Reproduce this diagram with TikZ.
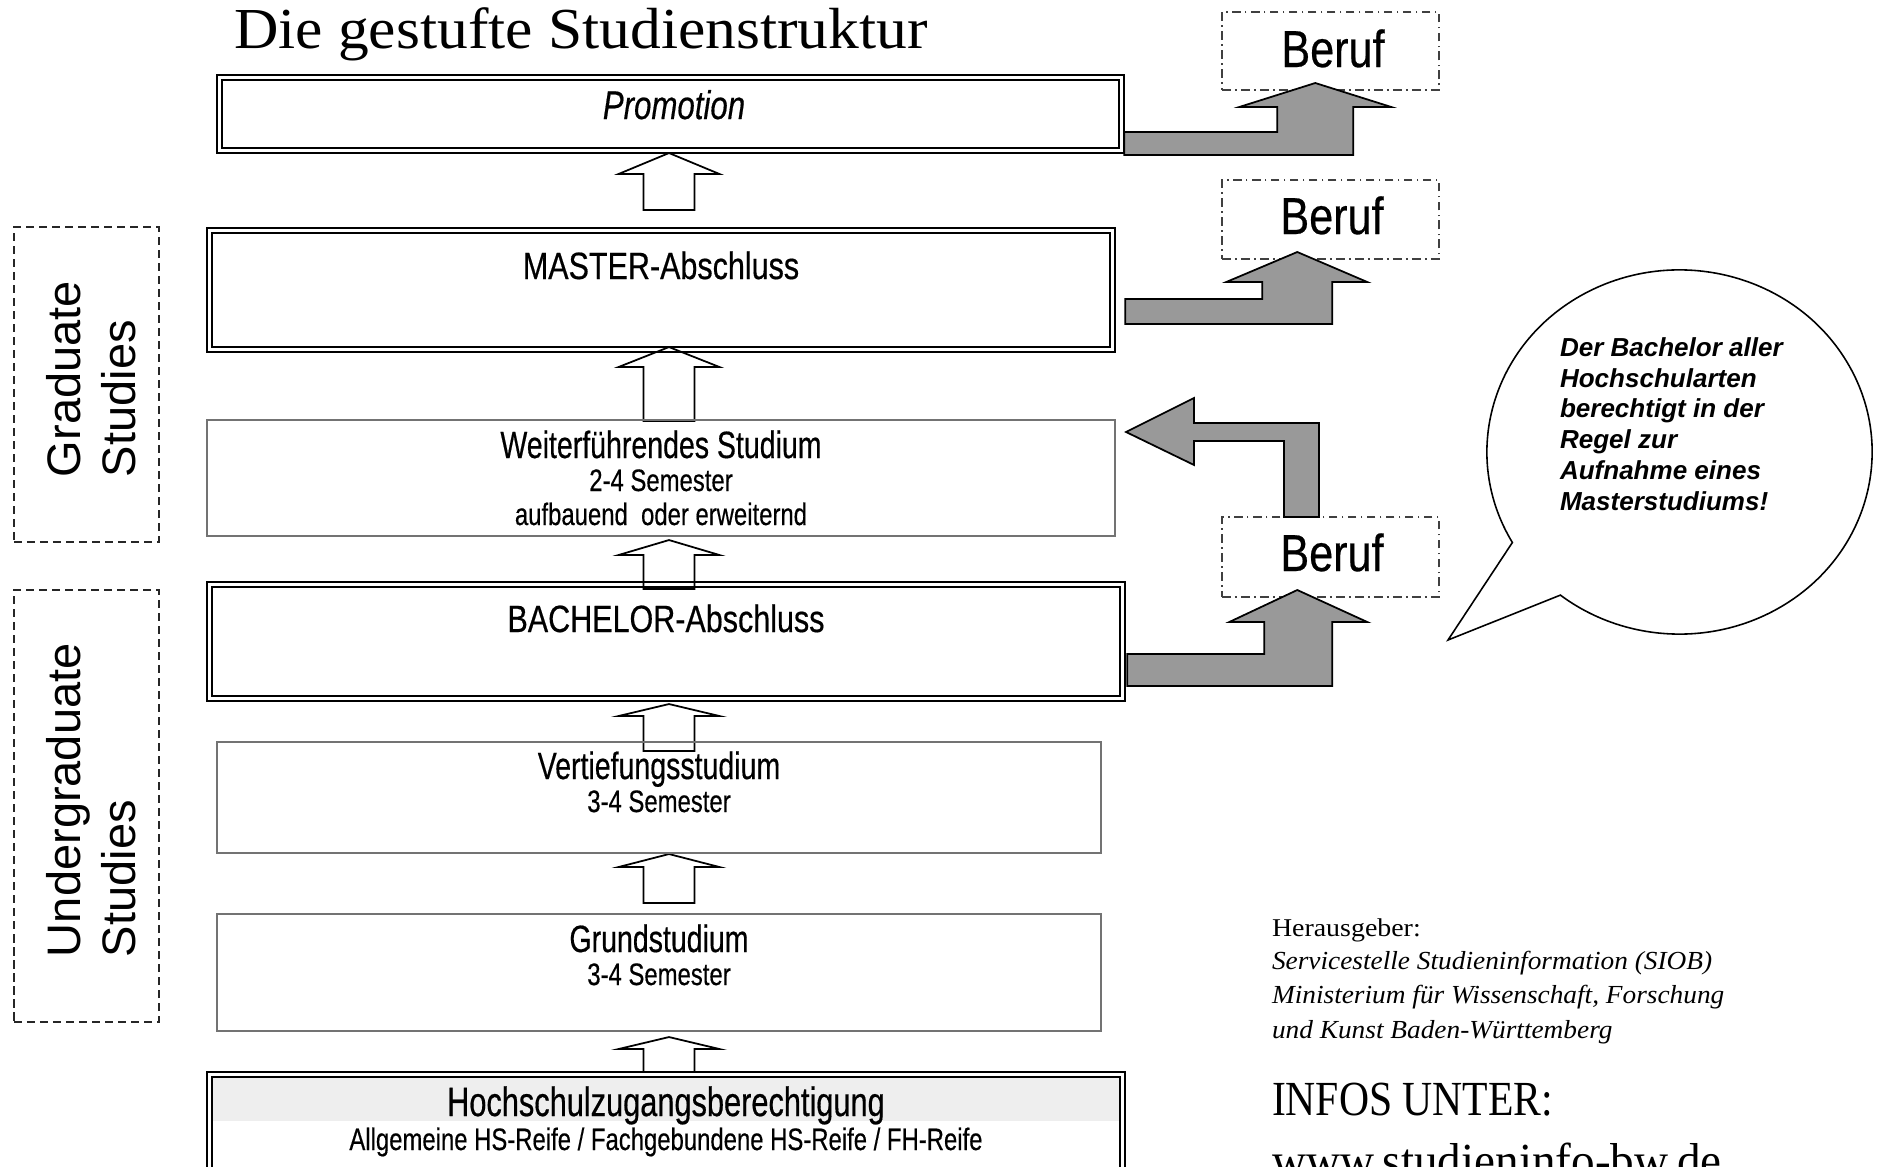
\documentclass[tikz,border=0pt]{standalone}
\usepackage{fontspec}
\setmainfont{Liberation Serif}
\setsansfont{Liberation Sans}
\newfontfamily\nsans[FakeBold=0.5]{Liberation Sans}
\usetikzlibrary{calc,backgrounds}
\definecolor{arrowgray}{RGB}{153,153,153}
\definecolor{bandgray}{RGB}{238,238,238}
\newcommand\hollowup[3]{\draw[hollow] (#1) -- ++(50.5,#2) -- ++(-25,0) -- ++(0,#3) -- ++(-51,0) -- ++(0,-#3) -- ++(-25,0) -- cycle;}
\begin{document}
\begin{tikzpicture}[x=0.01cm,y=-0.01cm,
  every node/.style={inner sep=0pt,outer sep=0pt},
  dblbox/.style={draw,line width=0.5pt},
  sglbox/.style={draw=black!55,line width=0.5pt},
  frame/.style={line width=0.5pt},
  hollow/.style={draw,line width=0.5pt,fill=white},
  grayarrow/.style={draw,line width=0.5pt,fill=arrowgray,line join=miter},
  berufbox/.style={draw=black!75,line width=0.4pt,dash pattern=on 2.5pt off 1.2pt on 0.5pt off 1.2pt},
  dashbox/.style={draw=black!85,line width=0.5pt,dash pattern=on 2.3pt off 1.4pt},
  headtxt/.style={anchor=base,font=\nsans\fontsize{10.81}{13}\selectfont,xscale=0.75},
  capstxt/.style={headtxt,xscale=1.07},
  hzbtxt/.style={anchor=base,font=\nsans\fontsize{11.66}{14}\selectfont,xscale=0.75},
  promtxt/.style={anchor=base,font=\nsans\itshape\fontsize{11.38}{14}\selectfont,xscale=0.78},
  subtxt/.style={anchor=base,font=\nsans\fontsize{8.82}{10.5}\selectfont,xscale=0.77},
  beruftxt/.style={anchor=base,font=\nsans\fontsize{14.79}{17}\selectfont,xscale=0.83},
  sidetxt/.style={rotate=90,anchor=base west,font=\sffamily\fontsize{13.37}{15.6}\selectfont},
  bubtxt/.style={anchor=base west,align=left,font=\sffamily\bfseries\itshape\fontsize{7.4}{8.73}\selectfont},
  bubble/.style={draw,line width=0.45pt,fill=white},
  titletxt/.style={anchor=base west,font=\fontsize{16.5}{19}\selectfont,xscale=1.06},
  hgtxt/.style={anchor=base west,font=\fontsize{7.28}{9}\selectfont,xscale=1.09},
  footit/.style={anchor=base west,font=\itshape\fontsize{7.4}{9}\selectfont,xscale=1.05},
  infotxt/.style={anchor=base west,font=\fontsize{13.94}{16}\selectfont,xscale=0.85},
  wwwtxt/.style={anchor=base west,font=\fontsize{13.94}{16}\selectfont,xscale=0.962}
]
\useasboundingbox (0,0) rectangle (1879,1166);
\clip (0,0) rectangle (1879,1166);

% title
\node[titletxt] (title) at (234,48) {Die gestufte Studienstruktur};

% main boxes
\node[dblbox,minimum width=9.07cm,minimum height=0.78cm] (prom) at (670.5,114) {};
\node[dblbox,minimum width=9.08cm,minimum height=1.24cm] (master) at (661,290) {};
\node[sglbox,minimum width=9.08cm,minimum height=1.16cm] (weiter) at (661,478) {};
\node[dblbox,minimum width=9.18cm,minimum height=1.19cm] (bach) at (666,641.5) {};
\node[sglbox,minimum width=8.84cm,minimum height=1.11cm] (vert) at (659,797.5) {};
\node[sglbox,minimum width=8.84cm,minimum height=1.17cm] (grund) at (659,972.5) {};
\node[dblbox,minimum width=9.18cm,minimum height=1.13cm] (hzb) at (666,1128.5) {};
\fill[bandgray] ($(hzb.north west)+(5,5)$) rectangle ($(hzb.north east)+(-5,49)$);
\foreach \n in {prom,master,bach,hzb}
  \draw[frame] ($(\n.north west)+(5,5)$) rectangle ($(\n.south east)+(-5,-5)$);

% hollow up arrows (behind boxes)
\coordinate (ax) at (669,0);
\coordinate (u1) at (ax |- prom.south);
\coordinate (u2) at ($(ax |- master.south)+(0,-5)$);
\coordinate (u3) at ($(ax |- weiter.south)+(0,4)$);
\coordinate (u4) at ($(ax |- bach.south)+(0,3)$);
\coordinate (u5) at ($(ax |- vert.south)+(0,1)$);
\coordinate (u6) at ($(ax |- grund.south)+(0,6)$);
\begin{pgfonlayer}{background}
\hollowup{u1}{21}{36}
\hollowup{u2}{20}{54}
\hollowup{u3}{15}{34}
\hollowup{u4}{12}{35}
\hollowup{u5}{13}{36}
\hollowup{u6}{12}{23}
\end{pgfonlayer}

% box texts
\node[promtxt] (tprom) at (674,119) {Promotion};
\node[capstxt] (tmaster) at (661,279) {MASTER-Abschluss};
\node[headtxt] (tweiter) at (661,458) {Weiterführendes Studium};
\node[subtxt] (tweiter2) at (661,491) {2-4 Semester};
\node[subtxt] (tweiter3) at (661,525) {aufbauend\ \ oder erweiternd};
\node[capstxt] (tbach) at (666,632) {BACHELOR-Abschluss};
\node[headtxt] (tvert) at (659,779) {Vertiefungsstudium};
\node[subtxt] (tvert2) at (659,812) {3-4 Semester};
\node[headtxt] (tgrund) at (659,952) {Grundstudium};
\node[subtxt] (tgrund2) at (659,985) {3-4 Semester};
\node[hzbtxt] (thzb) at (666,1116) {Hochschulzugangsberechtigung};
\node[subtxt] (thzb2) at (666,1150) {Allgemeine HS-Reife / Fachgebundene HS-Reife / FH-Reife};

% Beruf boxes
\node[berufbox,minimum width=2.17cm,minimum height=0.78cm] (beruf1) at (1330.5,51) {};
\node[berufbox,minimum width=2.17cm,minimum height=0.79cm] (beruf2) at (1330.5,219.5) {};
\node[berufbox,minimum width=2.17cm,minimum height=0.80cm] (beruf3) at (1330.5,557) {};

% gray arrows
\draw[grayarrow] ($(prom.east)+(0,18)$) -- ++(153,0) -- ++(0,-25) -- ++(-38,0) -- ++(76,-24) -- ++(76,24) -- ++(-38,0) -- ++(0,48) -- ++(-229,0) -- cycle;
\draw[grayarrow] ($(master.east)+(10,9)$) -- ++(137,0) -- ++(0,-17) -- ++(-36,0) -- ++(71,-30) -- ++(70,30) -- ++(-35,0) -- ++(0,42) -- ++(-207,0) -- cycle;
\draw[grayarrow] ($(bach.east)+(2,12.5)$) -- ++(137,0) -- ++(0,-32) -- ++(-35,0) -- ++(68,-32) -- ++(70,32) -- ++(-35,0) -- ++(0,64) -- ++(-205,0) -- cycle;
\draw[grayarrow] ($(beruf3.north)+(-46.5,0)$) -- ++(0,-76) -- ++(-90,0) -- ++(0,24) -- ++(-68,-33) -- ++(68,-34) -- ++(0,25) -- ++(125,0) -- ++(0,94) -- cycle;

\node[beruftxt] (tberuf1) at (1333,67) {Beruf};
\node[beruftxt] (tberuf2) at (1332,234) {Beruf};
\node[beruftxt] (tberuf3) at (1332,571) {Beruf};

% side labels
\node[dashbox,minimum width=1.45cm,minimum height=3.15cm] (grad) at (86.5,384.5) {};
\node[sidetxt] (tgrad1) at (80,477) {Graduate};
\node[sidetxt] (tgrad2) at (135,477) {Studies};
\node[dashbox,minimum width=1.45cm,minimum height=4.32cm] (ug) at (86.5,806) {};
\node[sidetxt] (tug1) at (80,957) {Undergraduate};
\node[sidetxt] (tug2) at (135,957) {Studies};

% speech bubble
\coordinate (bc) at (1679.5,452);
\coordinate (btip) at (1448,640);
\draw[bubble] ($(bc)+(209.8:1.925cm and 1.82cm)$) arc[start angle=209.8,end angle=-128.2,x radius=1.925cm,y radius=1.82cm] -- (btip) -- cycle;
\node[bubtxt] (tbub) at (1560,510) {Der Bachelor aller\\Hochschularten\\berechtigt in der\\Regel zur\\Aufnahme eines\\Masterstudiums!};

% footer
\node[hgtxt] (hg) at (1272,936) {Herausgeber:};
\node[footit] (f1) at (1272,969) {Servicestelle Studieninformation (SIOB)};
\node[footit] (f2) at (1272,1003.5) {Ministerium für Wissenschaft, Forschung};
\node[footit] (f3) at (1272,1038) {und Kunst Baden-Württemberg};
\node[infotxt] (infos) at (1272,1115) {INFOS UNTER:};
\node[wwwtxt] (www) at (1272,1177) {www.studieninfo-bw.de};
\end{tikzpicture}
\end{document}
